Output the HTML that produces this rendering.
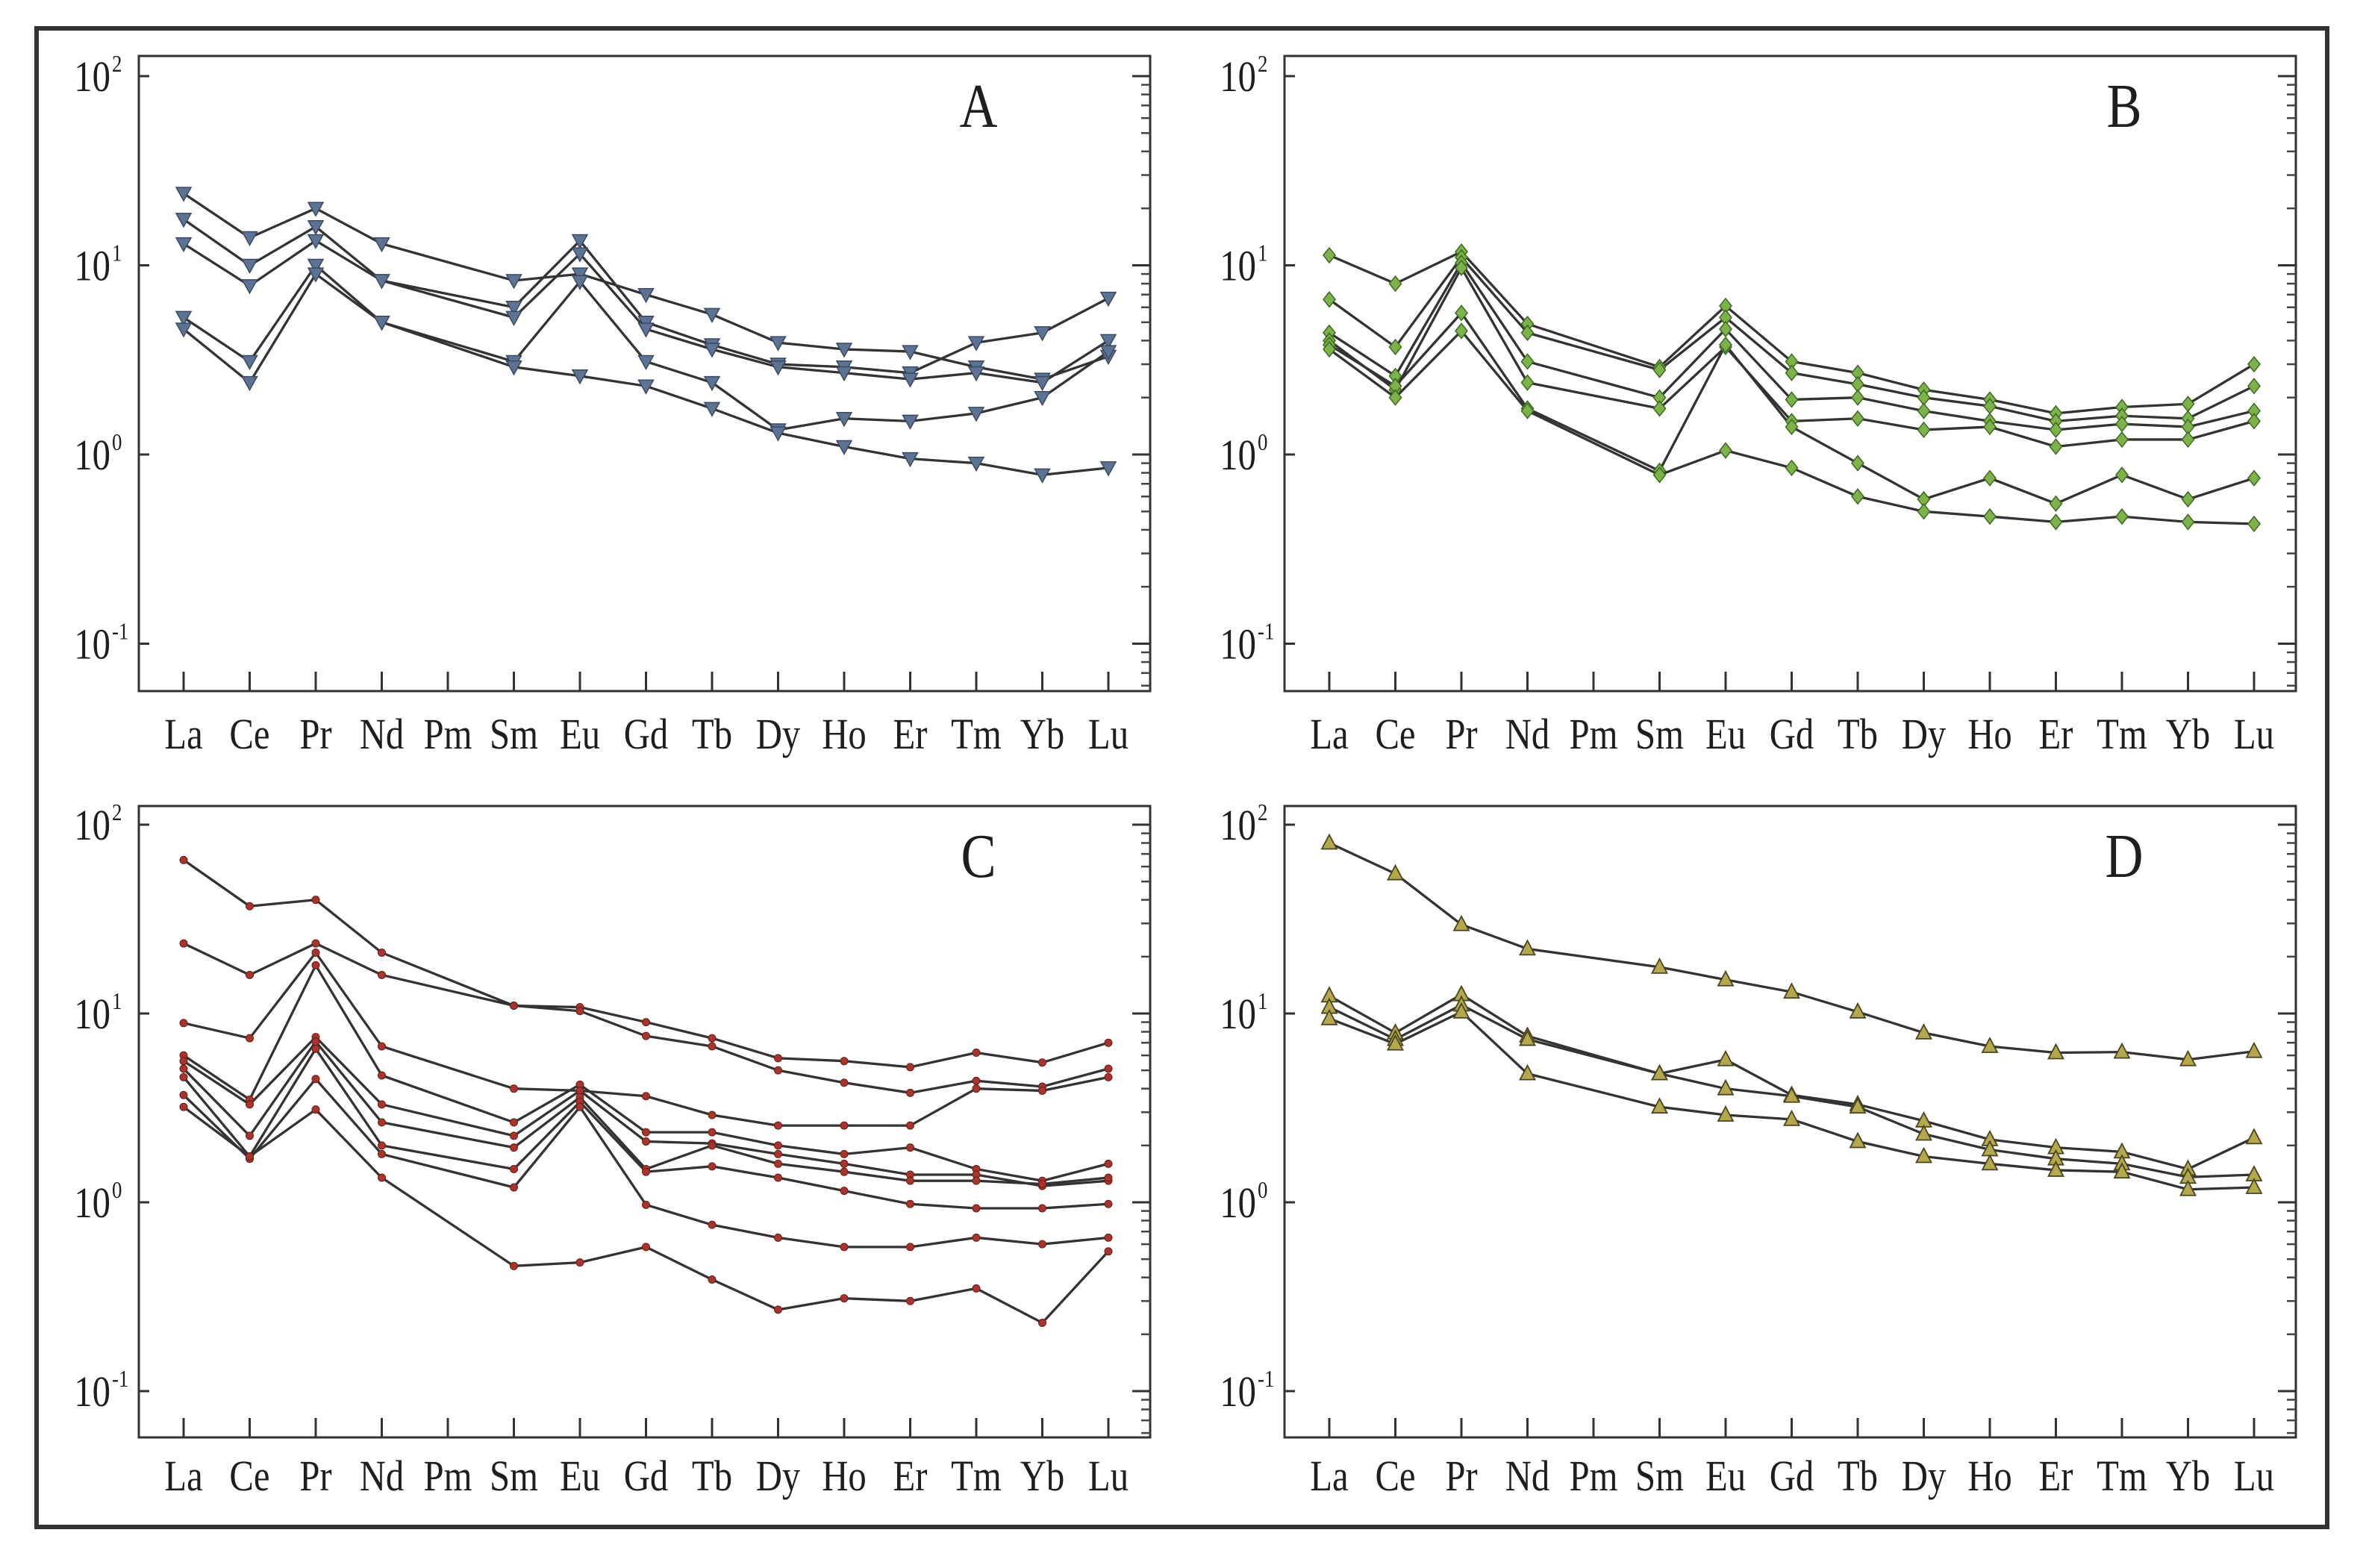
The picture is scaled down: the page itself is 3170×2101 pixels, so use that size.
<!DOCTYPE html>
<html><head><meta charset="utf-8"><style>
html,body{margin:0;padding:0;background:#fff;}
svg{display:block;}
text{font-family:"Liberation Serif","DejaVu Serif",serif;fill:#1e1e1e;}
</style></head><body>
<svg id="fig" width="3170" height="2101" viewBox="0 0 3170 2101" xmlns="http://www.w3.org/2000/svg">
<rect x="49" y="38" width="3069" height="2008" fill="none" stroke="#333" stroke-width="6"/>
</svg>
<script>
const elements = ["La","Ce","Pr","Nd","Pm","Sm","Eu","Gd","Tb","Dy","Ho","Er","Tm","Yb","Lu"];
const decadeLabels = ["2","1","0","-1"];
const decadeValues = [100,10,1,0.1];
const seriesA = [
 [24,14,20,13,null,8.3,9,7,5.5,3.9,3.6,3.5,2.9,2.5,3.3],
 [17.5,10,16,8.3,null,6,13.5,5,3.8,3.0,2.9,2.7,3.9,4.4,6.7],
 [13,7.8,13.5,8.3,null,5.3,11.5,4.6,3.6,2.9,2.7,2.5,2.7,2.4,4.0],
 [5.3,3.1,10,5.0,null,3.1,8.2,3.1,2.4,1.35,1.55,1.5,1.65,2.0,3.5],
 [4.6,2.4,9,5.0,null,2.9,2.6,2.3,1.75,1.3,1.1,0.95,0.9,0.78,0.85]
];
const seriesB = [
 [11.3,8,11.8,4.9,null,2.9,6.1,3.1,2.7,2.2,1.95,1.65,1.78,1.85,3.0],
 [6.6,3.7,11,4.4,null,2.8,5.3,2.7,2.35,2.0,1.8,1.5,1.6,1.55,2.3],
 [4.4,2.6,10.3,3.1,null,2.0,4.6,1.95,2.0,1.7,1.5,1.35,1.45,1.4,1.7],
 [4.0,2.2,9.7,2.4,null,1.75,3.7,1.5,1.55,1.35,1.4,1.1,1.2,1.2,1.5],
 [3.8,2.3,5.6,1.75,null,0.82,3.8,1.4,0.9,0.58,0.75,0.55,0.78,0.58,0.75],
 [3.6,2.0,4.5,1.7,null,0.78,1.05,0.85,0.6,0.5,0.47,0.44,0.47,0.44,0.43]
];
const seriesC = [
 [65,37,40,21,null,11,10.8,9,7.4,5.8,5.6,5.2,6.2,5.5,7],
 [23.5,16,23.5,16,null,11,10.3,7.6,6.7,5,4.3,3.8,4.4,4.1,5.1],
 [8.9,7.4,21,6.7,null,4.0,3.9,3.65,2.9,2.55,2.55,2.55,4.0,3.9,4.6],
 [6,3.5,18,4.7,null,2.65,4.2,2.35,2.35,2.0,1.8,1.95,1.5,1.3,1.6],
 [5.6,3.3,7.5,3.3,null,2.25,3.9,2.1,2.05,1.8,1.6,1.4,1.4,1.22,1.3],
 [5.1,2.25,7.1,2.65,null,1.95,3.6,1.5,2.0,1.6,1.45,1.3,1.3,1.25,1.35],
 [4.6,1.75,6.5,2.0,null,1.5,3.4,1.45,1.55,1.35,1.15,0.98,0.93,0.93,0.98],
 [3.7,1.7,4.5,1.8,null,1.2,3.2,0.97,0.76,0.65,0.58,0.58,0.65,0.6,0.65],
 [3.2,1.75,3.1,1.35,null,0.46,0.48,0.58,0.39,0.27,0.31,0.3,0.35,0.23,0.55]
];
const seriesD = [
 [80,55,29.6,22,null,17.6,15.1,13,10.2,7.9,6.7,6.2,6.25,5.7,6.3],
 [12.4,7.9,12.6,7.6,null,4.8,5.7,3.7,3.3,2.7,2.15,1.95,1.85,1.5,2.2],
 [10.8,7.3,11.1,7.3,null,4.8,4.0,3.65,3.2,2.3,1.9,1.7,1.6,1.36,1.4],
 [9.4,6.9,10.2,4.8,null,3.2,2.9,2.75,2.1,1.75,1.6,1.48,1.45,1.17,1.2]
];
const panelLetters = ["A","B","C","D"];

const NS="http://www.w3.org/2000/svg";
const svg=document.getElementById('fig');
function mk(tag,attrs,parent){const e=document.createElementNS(NS,tag);for(const k in attrs)e.setAttribute(k,attrs[k]);(parent||svg).appendChild(e);return e;}

const panels=[
 {x0:186,x1:1541,y0:75,y1:926,top:102,dec:253.5,lab:1001,data:seriesA,marker:'tdown',fill:'#5d7394'},
 {x0:1721,x1:3076,y0:75,y1:926,top:102,dec:253.5,lab:1001,data:seriesB,marker:'diamond',fill:'#7db24a'},
 {x0:186,x1:1541,y0:1080,y1:1926,top:1105,dec:253,lab:1995,data:seriesC,marker:'circle',fill:'#a8352c'},
 {x0:1721,x1:3076,y0:1080,y1:1926,top:1105,dec:253,lab:1995,data:seriesD,marker:'tup',fill:'#b3a84c'}
];
const SX=0.84;

panels.forEach((p,pi)=>{
 const g=mk('g',{});
 
 
 const xs=i=>p.x0+60+i*88.5;
 const ys=v=>p.top+(2-Math.log10(v))*p.dec;
 const box=mk('rect',{x:p.x0,y:p.y0,width:p.x1-p.x0,height:p.y1-p.y0,fill:'none',stroke:'#333','stroke-width':3},g);
 
 
 for(let d=0;d<decadeValues.length;d++){
  const y=ys(decadeValues[d]);
  mk('line',{x1:p.x0,x2:p.x0+14,y1:y,y2:y,stroke:'#333','stroke-width':3},g);
  mk('line',{x1:p.x1-24,x2:p.x1,y1:y,y2:y,stroke:'#333','stroke-width':3},g);
  const tx=p.x0-38;
  const t=mk('text',{x:tx/SX,y:y+20,'font-size':58,'text-anchor':'end',transform:`scale(${SX},1)`},g);
  t.textContent='10';
  
  
  const s=mk('text',{x:(p.x0-36)/SX,y:y-6,'font-size':32,'text-anchor':'start',transform:`scale(${SX},1)`},g);
  s.textContent=decadeLabels[d];
  
  
  if(d<3){for(let m=2;m<=9;m++){const ym=ys(decadeValues[d+1]*m);
   mk('line',{x1:p.x1-12,x2:p.x1,y1:ym,y2:ym,stroke:'#444','stroke-width':2.5},g);}}
 }
 for(let m=6;m<=9;m++){const ym=ys(0.01*m); if(ym<p.y1) mk('line',{x1:p.x1-12,x2:p.x1,y1:ym,y2:ym,stroke:'#444','stroke-width':2.5},g);}
 elements.forEach((el,i)=>{
  const x=xs(i);
  mk('line',{x1:x,x2:x,y1:p.y1-26,y2:p.y1,stroke:'#333','stroke-width':3},g);
  const t=mk('text',{x:x/SX,y:p.lab+2,'font-size':58,'text-anchor':'middle',transform:`scale(${SX},1)`},g);
  t.textContent=el;
  
  
 });
 const L=mk('text',{x:(p.x0+1125)/SX,y:p.y0+95,'font-size':84,'text-anchor':'middle',transform:`scale(${SX},1)`},g);
 L.textContent=panelLetters[pi];
 
 
 p.data.forEach((ser,si)=>{
  const pts=[];ser.forEach((v,i)=>{if(v!=null)pts.push([xs(i),ys(v)]);});
  const pl=mk('polyline',{points:pts.map(q=>q.join(',')).join(' '),fill:'none',stroke:'#333','stroke-width':3.3},g);
  
  
 });
 p.data.forEach((ser,si)=>{
  ser.forEach((v,i)=>{
   if(v==null)return;
   const x=xs(i),y=ys(v);let m;
   if(p.marker==='tdown') m=mk('polygon',{points:`${x-10},${y-8} ${x+10},${y-8} ${x},${y+10}`,fill:p.fill,stroke:'#3a4a60','stroke-width':1.5},g);
   else if(p.marker==='tup') m=mk('polygon',{points:`${x-10},${y+8} ${x+10},${y+8} ${x},${y-11}`,fill:p.fill,stroke:'#4a4420','stroke-width':1.8},g);
   else if(p.marker==='diamond') m=mk('polygon',{points:`${x},${y-10} ${x+8},${y} ${x},${y+10} ${x-8},${y}`,fill:p.fill,stroke:'#3d6a20','stroke-width':1.5},g);
   else m=mk('circle',{cx:x,cy:y,r:5,fill:p.fill,stroke:'#6a1c16','stroke-width':1},g);
   
   
  });
 });
});
</script>
</body></html>
